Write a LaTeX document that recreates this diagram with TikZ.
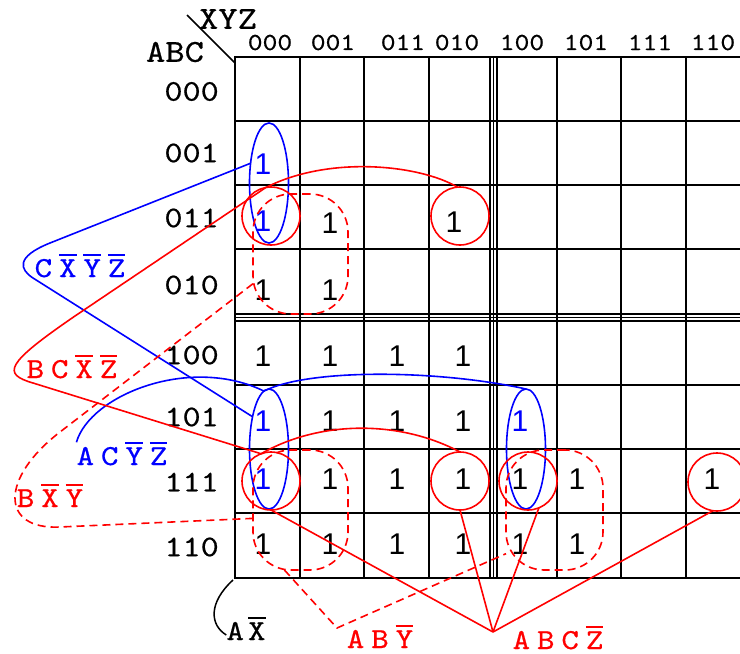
\documentclass[tikz,border=0pt]{standalone}
\usepackage{fontspec}
\setmainfont{Liberation Sans}
\newfontfamily\monofont[FakeStretch=1.15,RawFeature={embolden=0.6}]{lmmono10-regular.otf}
\usetikzlibrary{shapes.geometric}
\newcommand{\nb}[1]{\vbox{\hrule height 1.3pt\kern 3.5pt\hbox{#1}}}
\newcommand{\gp}{\kern6.9pt}

\begin{document}
\begin{tikzpicture}[x=1pt,y=-1pt,
  gridline/.style={line width=1.8pt,line cap=rect},
  thinline/.style={line width=0.8pt},
  one/.style={inner sep=0pt,font=\fontsize{30}{34}\selectfont},
  rowlbl/.style={anchor=east,inner sep=0pt,font=\monofont\fontsize{30}{34}\selectfont},
  collbl/.style={inner sep=0pt,font=\monofont\fontsize{24.5}{28}\selectfont},
  varlbl/.style={inner sep=0pt,font=\monofont\fontsize{32}{36}\selectfont},
  grp/.style={line width=1.6pt},
  dashgrp/.style={grp,dash pattern=on 8pt off 5pt},
  bell/.style={grp,blue,draw,ellipse,minimum width=39pt,minimum height=120pt,inner sep=0pt,outer sep=0pt},
  rcirc/.style={grp,red,draw,circle,minimum size=58pt,inner sep=0pt,outer sep=0pt},
  rbox/.style={dashgrp,red,draw,rectangle,rounded corners=38pt,minimum width=95pt,minimum height=120pt,inner sep=0pt,outer sep=0pt},
  lbl/.style={anchor=base,inner sep=0pt,font=\monofont\fontsize{29}{34}\selectfont},
]
\useasboundingbox (0,0) rectangle (740,654);

% map grid
\foreach \x in {235,300,364,429,490,497,557,621,686}
  \draw[gridline] (\x,57) -- (\x,578);
\foreach \y in {57,121,185,249,314,321,385,449,513,578}
  \draw[gridline] (235,\y) -- (745,\y);
\draw[thinline] (493.5,57) -- (493.5,578);
\draw[thinline] (235,317.5) -- (745,317.5);
\draw[line width=1.5pt] (187,15) -- (235,63);

\node[varlbl] (tXYZ) at (228,19) {XYZ};
\node[varlbl] (tABC) at (175,52) {ABC};
\foreach \x/\t in {270/000,333/001,403/011,457/010,522/100,586/101,650/111,713/110}
  \node[collbl] (h\t) at (\x,42.5) {\t};
\foreach \y/\t in {91.5/000,153/001,218/011,285/010,355/100,417/101,482/111,547/110}
  \node[rowlbl] (r\t) at (219,\y) {\t};

% cell values
\foreach \x/\y [count=\i] in {330/223,454/222,263/290,330/290,
    263/356,330/356,397/356,463/356,330/421,397/421,463/421,
    330/479,397/479,463/479,520/479,577/479,712/479,
    263/544,330/544,397/544,463/544,520/544,577/544}
  \node[one] (k\i) at (\x,\y) {1};
\foreach \x/\y [count=\i] in {263/164,263/221,263/421,263/479,520/421}
  \node[one,text=blue] (kb\i) at (\x,\y) {1};

% groups
\node[bell] (eA) at (269,183) {};
\node[bell] (eB) at (269,449) {};
\node[bell] (eC) at (526,449) {};
\node[rcirc] (c1) at (271,216) {};
\node[rcirc] (c2) at (460,216) {};
\node[rcirc] (c3) at (271,481) {};
\node[rcirc] (c4) at (460,481) {};
\node[rcirc] (c5) at (528,481) {};
\node[rcirc] (c6) at (717,482) {};
\node[rbox] (d1) at (300.5,254) {};
\node[rbox] (d2) at (300.5,510) {};
\node[rbox,minimum width=97pt] (d3) at (554.5,510) {};

% terms
\node[lbl,blue] (lCXYZ) at (80,277) {C\gp\nb{X}\gp\nb{Y}\gp\nb{Z}};
\node[lbl,red] (lBCXZ) at (72,378) {B\gp C\gp\nb{X}\gp\nb{Z}};
\node[lbl,blue] (lACYZ) at (122,465) {A\gp C\gp\nb{Y}\gp\nb{Z}};
\node[lbl,red] (lBXY) at (50,507) {B\gp\nb{X}\gp\nb{Y}};
\node[lbl,red] (lABY) at (380,648) {A\gp B\gp\nb{Y}};
\node[lbl,red] (lABCZ) at (558,649) {A\gp B\gp C\gp\nb{Z}};
\node[lbl,black] (lAX) at (246,640) {A\kern4pt\nb{X}};

\coordinate (jABCZ) at (493,632);
\coordinate (jABY) at (337,628);
\coordinate (gBL) at (233,580);

\draw[grp,blue] (eA.133) -- (50,243) .. controls (15,257) and (20,269.6) .. (33,278) -- (eB.117);
\draw[grp,blue] (lACYZ.north west) .. controls (90,395) and (190,355) .. (eB.95)
  .. controls (310,368) and (440,370) .. (eC.north);
\draw[grp,red] (c2.95) .. controls (420,165) and (330,155) .. (c1.100) -- (75,316)
  .. controls (5,364) and (2,374) .. (33,383) -- (c3.110)
  .. controls (320,420) and (400,420) .. (c4.north);
\foreach \c in {c3.south,c4.south,c5.-68,c6.-98}
  \draw[grp,red] (\c) -- (jABCZ);
\draw[dashgrp,red] (d1.212) -- (60,432) .. controls (0,478) and (0,530) .. (60,527) -- (d2.190);
\draw[dashgrp,red] (d2.255) -- (jABY) -- (d3.222);
\draw[line width=1.5pt] (gBL) .. controls (208,603) and (210,625) .. ([yshift=5pt]lAX.base west);
\end{tikzpicture}
\end{document}
